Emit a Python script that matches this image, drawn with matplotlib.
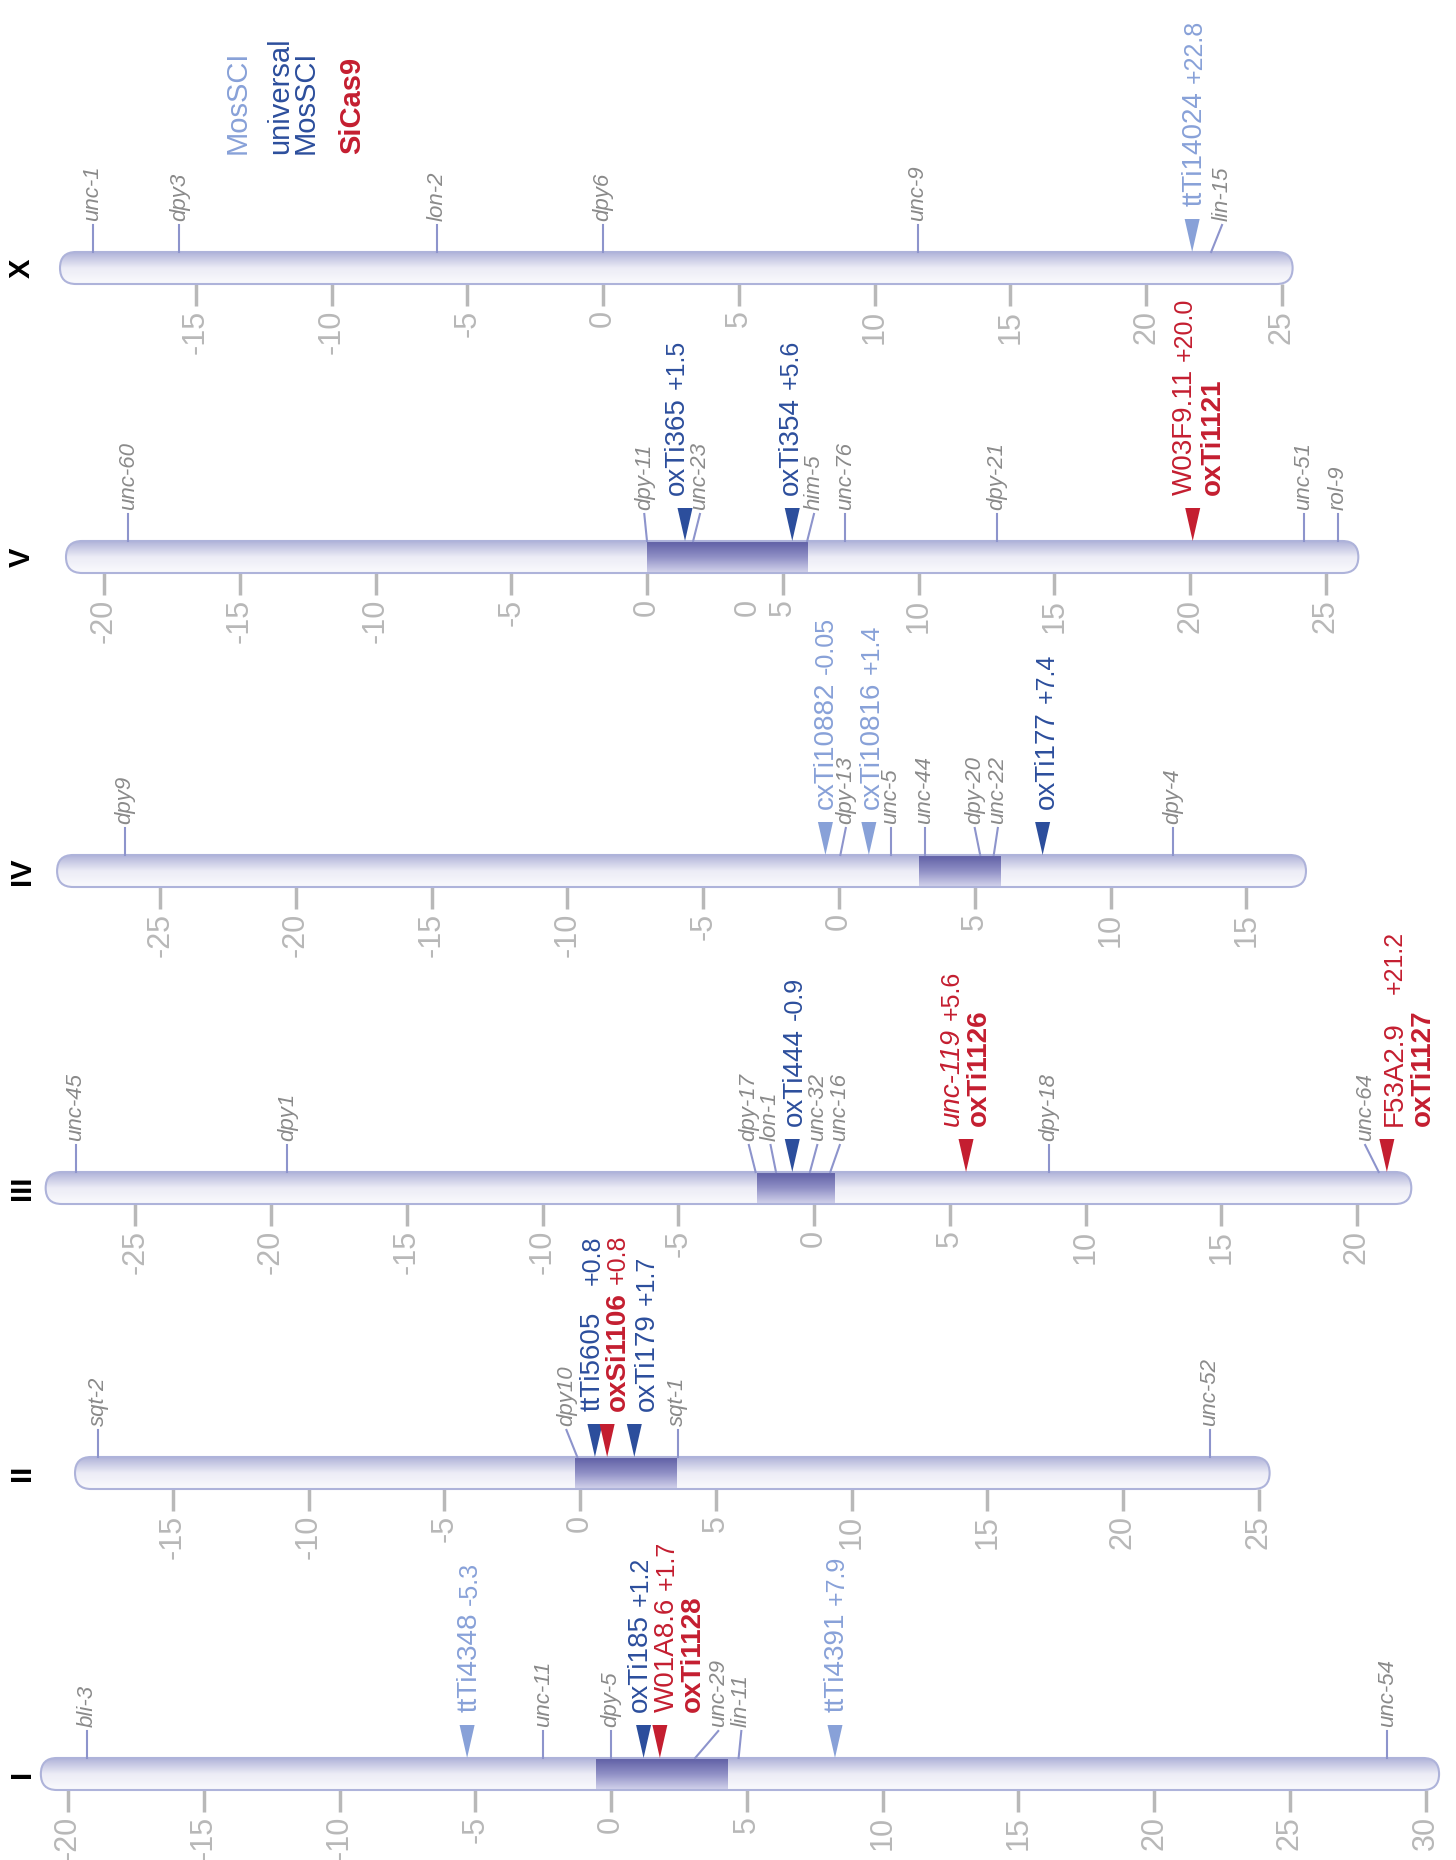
import matplotlib
matplotlib.use('Agg')
import matplotlib.pyplot as plt
from matplotlib.patches import FancyBboxPatch, Polygon
from matplotlib.colors import LinearSegmentedColormap
import numpy as np

plt.rcParams['font.family'] = ['Liberation Sans', 'DejaVu Sans']

# ---- data -------------------------------------------------------------
chrom_names = ['X', 'V', 'IV', 'III', 'II', 'I']
bar_start = [-20.0, -21.4, -28.8, -28.3, -18.6, -21.0]
bar_end = [25.4, 26.2, 17.2, 22.0, 25.4, 30.5]
tick_lo = [-15, -20, -25, -25, -15, -20]
tick_hi = [25, 25, 15, 20, 25, 30]
cluster_start = [None, 0.0, 2.95, -2.1, -0.2, -0.55]
cluster_end = [None, 5.9, 5.97, 0.75, 3.55, 4.3]

gene_names = {
    'X': ['unc-1', 'dpy3', 'lon-2', 'dpy6', 'unc-9', 'lin-15'],
    'V': ['unc-60', 'dpy-11', 'unc-23', 'him-5', 'unc-76', 'dpy-21', 'unc-51', 'rol-9'],
    'IV': ['dpy9', 'dpy-13', 'unc-5', 'unc-44', 'dpy-20', 'unc-22', 'dpy-4'],
    'III': ['unc-45', 'dpy1', 'dpy-17', 'lon-1', 'unc-32', 'unc-16', 'dpy-18', 'unc-64'],
    'II': ['sqt-2', 'dpy10', 'sqt-1', 'unc-52'],
    'I': ['bli-3', 'unc-11', 'dpy-5', 'unc-29', 'lin-11', 'unc-54'],
}
gene_pos = {
    'X': [-18.8, -15.6, -6.1, 0.0, 11.6, 22.4],
    'V': [-19.1, 0.0, 1.7, 5.9, 7.3, 12.9, 24.2, 25.45],
    'IV': [-26.3, 0.05, 1.9, 3.15, 5.2, 5.7, 12.3],
    'III': [-27.2, -19.4, -2.15, -1.4, -0.15, 0.6, 8.65, 20.8],
    'II': [-17.75, -0.1, 3.6, 23.2],
    'I': [-19.3, -2.5, 0.0, 3.1, 4.7, 28.6],
}
gene_label_pos = {
    'X': [-18.8, -15.6, -6.1, 0.0, 11.6, 22.8],
    'V': [-19.1, -0.1, 1.95, 6.15, 7.3, 12.9, 24.2, 25.45],
    'IV': [-26.3, 0.25, 1.9, 3.15, 5.0, 5.85, 12.3],
    'III': [-27.2, -19.4, -2.4, -1.6, 0.12, 0.95, 8.65, 20.3],
    'II': [-17.75, -0.5, 3.6, 23.2],
    'I': [-19.3, -2.5, 0.0, 3.95, 4.8, 28.6],
}

# insertion sites: kind, name, name style, offset, second line, arrow, label centres
ins_kind = {
    'X': ['mos'],
    'V': ['umos', 'umos', 'cas'],
    'IV': ['mos', 'mos', 'umos'],
    'III': ['umos', 'cas', 'cas'],
    'II': ['umos', 'cas', 'umos'],
    'I': ['mos', 'umos', 'cas', 'mos'],
}
ins_name = {
    'X': ['ttTi14024'],
    'V': ['oxTi365', 'oxTi354', 'W03F9.11'],
    'IV': ['cxTi10882', 'cxTi10816', 'oxTi177'],
    'III': ['oxTi444', 'unc-119', 'F53A2.9'],
    'II': ['ttTi5605', 'oxSi1106', 'oxTi179'],
    'I': ['ttTi4348', 'oxTi185', 'W01A8.6', 'ttTi4391'],
}
ins_style = {
    'X': ['normal'],
    'V': ['normal', 'normal', 'normal'],
    'IV': ['normal', 'normal', 'normal'],
    'III': ['normal', 'italic', 'normal'],
    'II': ['normal', 'bold', 'normal'],
    'I': ['normal', 'normal', 'normal', 'normal'],
}
ins_offset = {
    'X': ['+22.8'],
    'V': ['+1.5', '+5.6', '+20.0'],
    'IV': ['-0.05', '+1.4', '+7.4'],
    'III': ['-0.9', '+5.6', '+21.2'],
    'II': ['+0.8', '+0.8', '+1.7'],
    'I': ['-5.3', '+1.2', '+1.7', '+7.9'],
}
ins_line2 = {
    'X': [''],
    'V': ['', '', 'oxTi1121'],
    'IV': ['', '', ''],
    'III': ['', 'oxTi1126', 'oxTi1127'],
    'II': ['', '', ''],
    'I': ['', '', 'oxTi1128', ''],
}
ins_pos = {
    'X': [21.7],
    'V': [1.4, 5.35, 20.1],
    'IV': [-0.5, 1.1, 7.5],
    'III': [-0.8, 5.6, 21.1],
    'II': [0.55, 1.0, 2.0],
    'I': [-5.3, 1.2, 1.8, 8.25],
}
ins_label_pos = {
    'X': [21.7],
    'V': [1.0, 5.2, 19.7],
    'IV': [-0.6, 1.1, 7.55],
    'III': [-0.8, 4.97, 21.3],
    'II': [0.37, 1.3, 2.35],
    'I': [-5.3, 0.97, 1.96, 8.2],
}
ins_line2_pos = {
    'X': [None],
    'V': [None, None, 20.75],
    'IV': [None, None, None],
    'III': [None, 5.95, 22.3],
    'II': [None, None, None],
    'I': [None, None, 2.9, None],
}
ins_gap = {
    'X': [8], 'V': [8, 8, 8], 'IV': [8, 8, 8], 'III': [8, 8, 27],
    'II': [27, 8, 8], 'I': [8, 8, 8, 8],
}

legend_labels = ['MosSCI', 'universal\nMosSCI', 'SiCas9']

# ---- layout / style ---------------------------------------------------
W, H = 1456, 1860
PX = 27.15                      # pixels per map unit
zero_px = [603, 647, 839, 814, 580, 611]
centre_px = [268, 557, 871, 1188, 1473, 1774]
HALF = 16                       # half bar height in px
AX_H = 400

colors = {'mos': '#88a1d8', 'umos': '#2c4e9c', 'cas': '#c41e30'}
gene_col = '#8a8a8a'
tick_col = '#b8b8b8'
mark_col = '#8d94cc'
edge_col = '#aeb3da'
bar_cmap = LinearSegmentedColormap.from_list('bar', ['#fafafd', '#ececf6', '#b0b3d9'])
clu_cmap = LinearSegmentedColormap.from_list('clu', ['#d4d4ec', '#9090c6', '#5e5ea4'])

NAME_FS = 20
OFF_FS = 18
GENE_FS = 16
TICK_FS = 22
cap_px = 0.716 * NAME_FS * 100 / 72

fig = plt.figure(figsize=(W / 100, H / 100), dpi=100)

for i, ch in enumerate(chrom_names):
    y0 = H - centre_px[i] - AX_H / 2
    ax = fig.add_axes([0, y0 / H, 1, AX_H / H])
    ax.axis('off')

    # chromosome body with gradient
    body = FancyBboxPatch((bar_start[i], -HALF), bar_end[i] - bar_start[i], 2 * HALF,
                          boxstyle=f'round,pad=0,rounding_size={HALF / PX}',
                          mutation_aspect=PX, facecolor='none', edgecolor='none')
    ax.add_patch(body)
    grad = np.linspace(0, 1, 200).reshape(-1, 1)
    im = ax.imshow(grad, extent=(bar_start[i], bar_end[i], -HALF, HALF), origin='lower',
                   aspect='auto', cmap=bar_cmap, zorder=1)
    im.set_clip_path(body)
    if cluster_start[i] is not None:
        im2 = ax.imshow(grad, extent=(cluster_start[i], cluster_end[i], -HALF, HALF),
                        origin='lower', aspect='auto', cmap=clu_cmap, zorder=2)
        im2.set_clip_path(body)
    outline = FancyBboxPatch((bar_start[i], -HALF), bar_end[i] - bar_start[i], 2 * HALF,
                             boxstyle=f'round,pad=0,rounding_size={HALF / PX}',
                             mutation_aspect=PX, facecolor='none', edgecolor=edge_col,
                             lw=1.5, zorder=3)
    ax.add_patch(outline)

    # axis ticks below the bar
    for t in range(tick_lo[i], tick_hi[i] + 1, 5):
        ax.plot([t, t], [-HALF, -HALF - 22], color=tick_col, lw=2.5, clip_on=False,
                solid_capstyle='butt')
        ax.text(t, -HALF - 26, f'{t}', rotation=90, rotation_mode='anchor', ha='right',
                va='center', fontsize=TICK_FS, color=tick_col)
    if ch == 'V':
        ax.text(3.7, -HALF - 26, '0', rotation=90, rotation_mode='anchor', ha='right',
                va='center', fontsize=TICK_FS, color=tick_col)

    # genetic markers above the bar
    for g, p, lp in zip(gene_names[ch], gene_pos[ch], gene_label_pos[ch]):
        ax.plot([p, lp], [HALF, HALF + 27], color=mark_col, lw=1.5, clip_on=False, zorder=4)
        ax.text(lp, HALF + 31, g, rotation=90, rotation_mode='anchor', ha='left',
                va='center', fontsize=GENE_FS, color=gene_col, style='italic')

    # insertion sites
    for k in range(len(ins_name[ch])):
        c = colors[ins_kind[ch][k]]
        p = ins_pos[ch][k]
        hw = 7.5 / PX
        tri = Polygon([(p - hw, HALF + 33), (p + hw, HALF + 33), (p, HALF)], closed=True,
                      facecolor=c, edgecolor='none', zorder=5, clip_on=False)
        ax.add_patch(tri)
        st = ins_style[ch][k]
        xb = ins_label_pos[ch][k] + cap_px / 2 / PX
        t1 = ax.text(xb, HALF + 46, ins_name[ch][k], rotation=90, rotation_mode='anchor',
                     ha='left', va='baseline', fontsize=NAME_FS, color=c,
                     fontweight='bold' if st == 'bold' else 'normal',
                     style='italic' if st == 'italic' else 'normal')
        ax.annotate(ins_offset[ch][k], xy=(xb, 1.0), xycoords=('data', t1),
                    xytext=(0, ins_gap[ch][k] * 0.72), textcoords='offset points',
                    rotation=90, rotation_mode='anchor', ha='left', va='baseline',
                    fontsize=OFF_FS, color=c)
        if ins_line2[ch][k]:
            xb2 = ins_line2_pos[ch][k] + cap_px / 2 / PX
            ax.text(xb2, HALF + 46, ins_line2[ch][k], rotation=90, rotation_mode='anchor',
                    ha='left', va='baseline', fontsize=NAME_FS, color=c, fontweight='bold')

    # chromosome name
    ax.annotate(ch, xy=(22, 0), xycoords=('figure pixels', 'data'), rotation=90,
                ha='center', va='center', fontsize=21, fontweight='bold', color='black')

    ax.set_xlim(-zero_px[i] / PX, (W - zero_px[i]) / PX)
    ax.set_ylim(-AX_H / 2, AX_H / 2)

# legend
leg_x = [238, 293, 352]
leg_col = [colors['mos'], colors['umos'], colors['cas']]
leg_w = ['normal', 'normal', 'bold']
for lx, lab, lc, lw_ in zip(leg_x, legend_labels, leg_col, leg_w):
    fig.text(lx / W, 1 - 154 / H, lab, rotation=90, rotation_mode='anchor', ha='left',
             va='center', fontsize=21, color=lc, fontweight=lw_, linespacing=0.9,
             multialignment='left')

fig.savefig('out.png', dpi=100, facecolor='white')
